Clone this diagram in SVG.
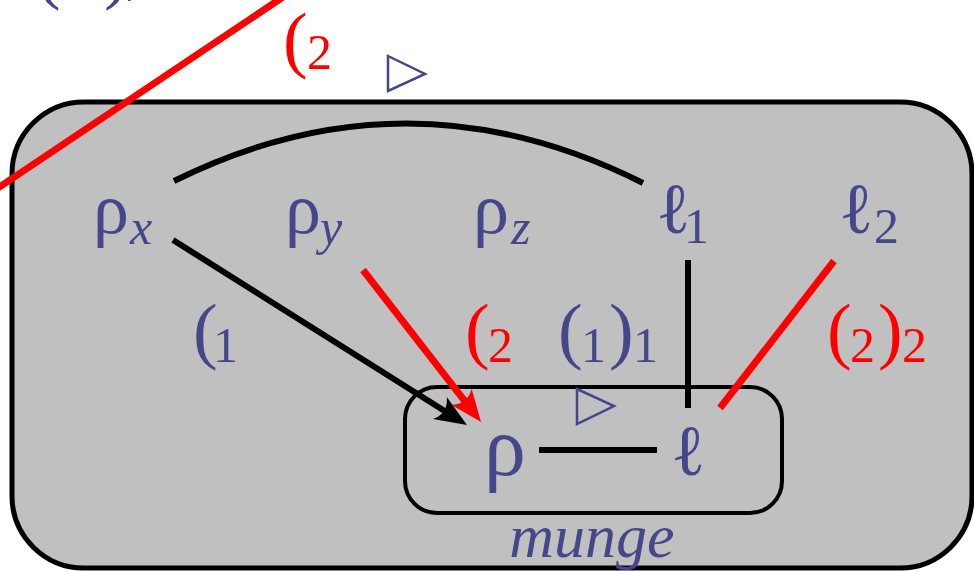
<svg xmlns="http://www.w3.org/2000/svg" width="974" height="571" viewBox="0 0 974 571">
<style>
.b{fill:#46468a}
.r{fill:#ff0000}
.t{font-family:"Liberation Serif","Times New Roman",serif}
.m{font-size:72px}
.s{font-size:50px}
.i{font-style:italic}
.p{font-size:74px}
.k{fill:none;stroke:#000;stroke-width:6}
.rl{fill:none;stroke:#ff0000;stroke-width:7}
.tri{fill:none;stroke:#46468a;stroke-width:2.5;stroke-linejoin:miter}
</style>
<defs>
<marker id="ak" markerUnits="userSpaceOnUse" markerWidth="60" markerHeight="40" viewBox="-30 -20 60 40" refX="0" refY="0" orient="auto" overflow="visible">
<path d="M10,0 L-22,-13 Q-12,0 -22,13 Z" fill="#000"/>
</marker>
<marker id="ar" markerUnits="userSpaceOnUse" markerWidth="60" markerHeight="40" viewBox="-30 -20 60 40" refX="0" refY="0" orient="auto" overflow="visible">
<path d="M10,0 L-22,-13 Q-12,0 -22,13 Z" fill="#ff0000"/>
</marker>
</defs>

<g id="top-label" class="t b">
<text x="36" y="-5" class="p">(</text>
<text x="67" y="0" class="s">1</text>
<text x="104" y="-5" class="p">)</text>
<text x="130" y="0" class="s i">/</text>
</g>

<g id="outer">
<rect x="12" y="102" width="960" height="466" rx="72" ry="72" fill="#c0c0c0" stroke="#000" stroke-width="5"/>
</g>

<g id="munge">
<rect x="405" y="387" width="377" height="126" rx="32" ry="32" fill="none" stroke="#000" stroke-width="4"/>
<text x="592" y="557" text-anchor="middle" class="t b i" font-size="62">munge</text>
</g>

<g id="top-triangle">
<polygon class="tri" points="388,56 425,74 388,91"/>
</g>
<g id="munge-triangle">
<polygon class="tri" points="577,389 614,406 577,424"/>
</g>

<g id="connectors">
<path class="k" d="M174,181 Q408,65 643,183" stroke-width="7"/>
<line class="k" x1="173" y1="240" x2="458.5" y2="419.7" marker-end="url(#ak)"/>
<line class="rl" x1="363" y1="270" x2="474.9" y2="414.1" marker-end="url(#ar)"/>
<line class="k" x1="688" y1="260" x2="688" y2="408"/>
<line class="rl" x1="834" y1="261" x2="720" y2="408"/>
<line class="k" x1="539" y1="450" x2="657" y2="450"/>
<line class="rl" x1="283" y1="-3" x2="-5" y2="190"/>
</g>

<g id="rho-x" class="t b">
<text x="93" y="233" class="m">ρ</text>
<text x="130" y="244" class="s i">x</text>
</g>
<g id="rho-y" class="t b">
<text x="285" y="233" class="m">ρ</text>
<text x="320" y="244" class="s i">y</text>
</g>
<g id="rho-z" class="t b">
<text x="473" y="233" class="m">ρ</text>
<text x="511" y="244" class="s i">z</text>
</g>
<g id="ell-1" class="t b">
<text x="656" y="233" class="m">ℓ</text>
<text x="684" y="243" class="s">1</text>
</g>
<g id="ell-2" class="t b">
<text x="839" y="233" class="m">ℓ</text>
<text x="874" y="243" class="s">2</text>
</g>
<g id="rho" class="t b">
<text x="484" y="475" font-size="84">ρ</text>
</g>
<g id="ell" class="t b">
<text x="671" y="475" class="m">ℓ</text>
</g>

<g id="label-top-2" class="t r">
<text x="283" y="64" class="p">(</text>
<text x="307" y="69" class="s">2</text>
</g>
<g id="label-1" class="t b">
<text x="193" y="355" class="p">(</text>
<text x="213" y="362" class="s">1</text>
</g>
<g id="label-2" class="t r">
<text x="465" y="355" class="p">(</text>
<text x="488" y="362" class="s">2</text>
</g>
<g id="label-11" class="t b">
<text x="558" y="355" class="p">(</text>
<text x="581" y="362" class="s">1</text>
<text x="609" y="355" class="p">)</text>
<text x="633" y="362" class="s">1</text>
</g>
<g id="label-22" class="t r">
<text x="827" y="355" class="p">(</text>
<text x="850" y="362" class="s">2</text>
<text x="878" y="355" class="p">)</text>
<text x="902" y="362" class="s">2</text>
</g>
</svg>
